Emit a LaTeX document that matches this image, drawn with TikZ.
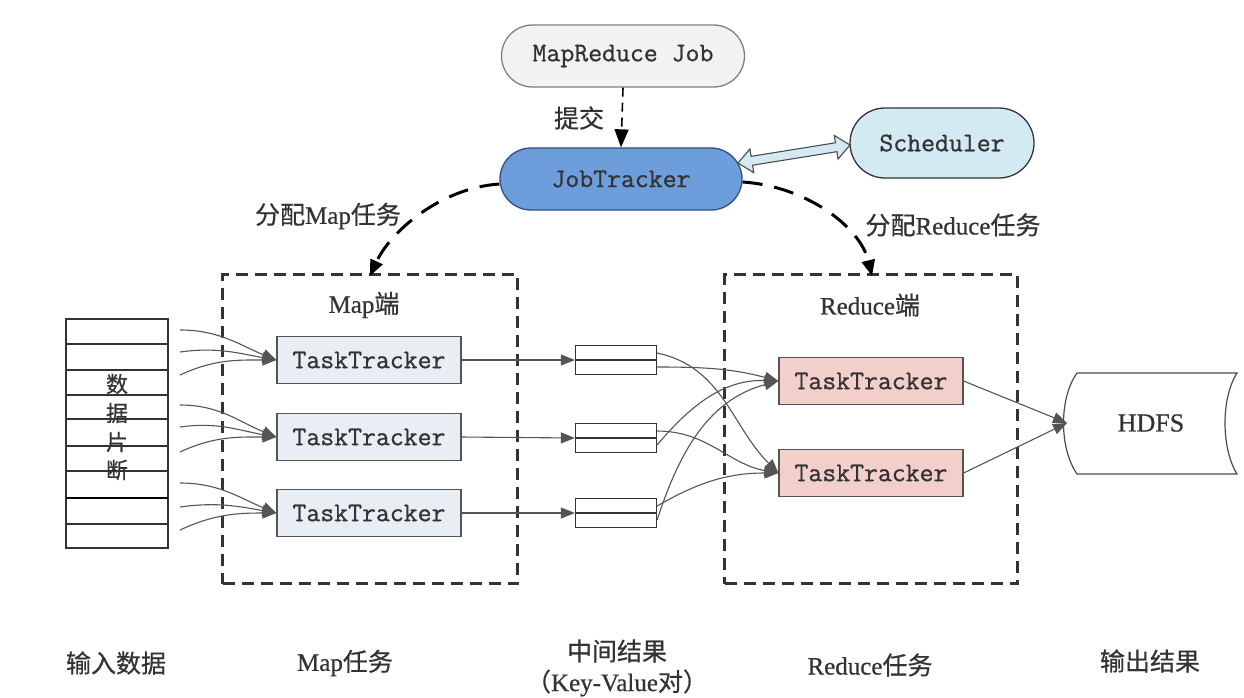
\documentclass[tikz,border=0pt]{standalone}
\usepackage{fontspec}
\newfontfamily\cjk[FakeBold=0.6]{Noto Sans CJK SC}
\newfontfamily\monof[FakeBold=0.8]{Latin Modern Mono}
\newfontfamily\serf[FakeBold=0.6]{Liberation Serif}
\usetikzlibrary{arrows.meta,shapes.misc}
\definecolor{txt}{HTML}{333333}
\definecolor{lc}{HTML}{555555}
\definecolor{jobfill}{HTML}{F2F2F2}
\definecolor{jtfill}{HTML}{6E9DDC}
\definecolor{jtdraw}{HTML}{2F4F80}
\definecolor{schfill}{HTML}{D4EAF3}
\definecolor{mapfill}{HTML}{E9EEF5}
\definecolor{redfill}{HTML}{F2CFCB}
\begin{document}
\begin{tikzpicture}[x=1pt,y=-1pt,
  pill/.style={rounded rectangle, line width=1.3pt, minimum height=62pt, inner sep=0pt,
    font=\monof\fontsize{27}{30}\selectfont, text=txt},
  ttbox/.style={rectangle, draw=lc, line width=1.2pt, minimum width=184pt, minimum height=47pt,
    inner sep=0pt, font=\monof\fontsize{27}{30}\selectfont, text=txt},
  midbox/.style={rectangle, draw=black!80, line width=1.2pt, minimum width=81pt, minimum height=29pt, inner sep=0pt},
  conn/.style={draw=lc, line width=1.1pt, -{Triangle[length=14pt,width=11pt]}},
  dbox/.style={draw=black!80, dash pattern=on 12pt off 7pt, line width=2.2pt},
  darc/.style={draw=black, line width=3pt, dash pattern=on 20pt off 12pt,
    -{Triangle[length=16pt,width=13pt]}},
  lab/.style={font=\cjk\fontsize{25}{28}\selectfont, text=txt, inner sep=0pt},
  dlab/.style={font=\cjk\fontsize{22}{24}\selectfont, text=txt, inner sep=0pt},
]
\useasboundingbox[fill=white] (0,0) rectangle (1244,697);

% top nodes
\node[pill, draw=gray, fill=jobfill, minimum width=243pt] (job) at (623,56) {MapReduce Job};
\node[pill, draw=jtdraw, fill=jtfill, minimum width=242pt] (jt) at (621,179) {JobTracker};
\node[pill, draw=black!80, fill=schfill, minimum width=184pt, minimum height=70pt] (sch) at (942,143) {Scheduler};

\draw[draw=black, line width=1.6pt, dash pattern=on 9pt off 6pt, -{Triangle[length=18pt,width=14pt]}] (job.south) -- (jt.north);
\node[lab] (tijiao) at (579,118) {提交};

% double hollow arrow
\begin{scope}[shift={(738,163)}, rotate=9.13]
\filldraw[fill=schfill, draw=black!70, line width=1.1pt]
  (0,0) -- (14,-12) -- (14,-4.5) -- (99.4,-4.5) -- (99.4,-12) -- (113.4,0)
  -- (99.4,12) -- (99.4,4.5) -- (14,4.5) -- (14,12) -- cycle;
\end{scope}

% dashed boxes
\node[dbox, minimum width=295pt, minimum height=309pt, inner sep=0pt] (mapbox) at (370,429) {};
\node[dbox, minimum width=293pt, minimum height=309pt, inner sep=0pt] (redbox) at (871,429) {};
\node[lab] (mapend) at (364,305) {{\serf Map}端};
\node[lab] (redend) at (870,305) {{\serf Reduce}端};

% assignment arcs
\coordinate (mapin) at (370,276);
\coordinate (redin) at (872,276);
\draw[darc] (jt.west) ++(0,5) .. controls (440,188) and (390,232) .. (mapin);
\draw[darc] (jt.east) ++(0,3) .. controls (805,186) and (860,226) .. (redin);
\node[lab] (fm) at (328,216) {分配{\serf Map}任务};
\node[lab] (fr) at (953,225) {分配{\serf Reduce}任务};

% input data block
\node[draw=black!80, line width=1.2pt, minimum width=102pt, minimum height=229pt, inner sep=0pt] (data) at (117,433.5) {};
\foreach \yy in {344,370,395,419,446,471,524} {\draw[black!80, line width=1.2pt] (66,\yy) -- (168,\yy);}
\draw[black, line width=2pt] (66,498) -- (168,498);
\node[dlab] (d1) at (117,384) {数};
\node[dlab] (d2) at (117,413) {据};
\node[dlab] (d3) at (117,442) {片};
\node[dlab] (d4) at (117,470) {断};

% map tasktrackers
\node[ttbox, fill=mapfill] (m1) at (369,360) {TaskTracker};
\node[ttbox, fill=mapfill] (m2) at (369,437) {TaskTracker};
\node[ttbox, fill=mapfill] (m3) at (369,513) {TaskTracker};

\coordinate (s11) at (180,330); \coordinate (s12) at (180,352); \coordinate (s13) at (180,375);
\coordinate (s21) at (180,405); \coordinate (s22) at (180,427); \coordinate (s23) at (180,452);
\coordinate (s31) at (180,483); \coordinate (s32) at (180,507); \coordinate (s33) at (180,530);
\foreach \i in {1,2,3} {
  \draw[conn] (s\i1) to[out=0,in=158] (m\i.west);
  \draw[conn] (s\i2) to[out=8,in=170] (m\i.west);
  \draw[conn] (s\i3) to[out=25,in=180] (m\i.west);
}

% intermediate blocks
\node[midbox] (b1) at (616,360) {};
\node[midbox] (b2) at (616,438) {};
\node[midbox] (b3) at (616,513) {};
\foreach \i in {1,2,3} {
  \draw[black!80, line width=1.2pt] (b\i.west) -- (b\i.east);
  \draw[conn] (m\i.east) -- (b\i.west);
}

% reduce tasktrackers
\node[ttbox, fill=redfill] (r1) at (871,381) {TaskTracker};
\node[ttbox, fill=redfill] (r2) at (871,473) {TaskTracker};

\draw[conn] ([yshift=-7pt]b1.east) to[out=0,in=165] (r1.west);
\draw[conn] ([yshift=7pt]b1.east) to[out=-12,in=135] (r2.west);
\draw[conn] ([yshift=-7pt]b2.east) to[out=50,in=178] (r1.west);
\draw[conn] ([yshift=7pt]b2.east) to[out=0,in=170] (r2.west);
\draw[conn] ([yshift=-7pt]b3.east) to[out=72,in=195] (r1.west);
\draw[conn] ([yshift=7pt]b3.east) to[out=30,in=180] (r2.west);

% HDFS
\node[font=\serf\fontsize{26}{28}\selectfont, text=txt] (hdfs) at (1151,423) {HDFS};
\draw[draw=black!70, line width=1.2pt] (1077,373) -- (1237,373)
  .. controls (1221,398) and (1221,448) .. (1237,474) -- (1077,474)
  .. controls (1059,448) and (1059,398) .. (1077,373) -- cycle;
\coordinate (hdfsin) at (1067,423);
\draw[conn] (r1.east) -- (hdfsin);
\draw[conn] (r2.east) -- (hdfsin);

% bottom labels
\node[lab] (l1) at (116,663) {输入数据};
\node[lab] (l2) at (345,663) {{\serf Map}任务};
\node[lab] (l3) at (617,651) {中间结果};
\node[lab] (l3b) at (617,683) {（{\serf Key-Value}对）};
\node[lab] (l4) at (870,665) {{\serf Reduce}任务};
\node[lab] (l5) at (1150,661) {输出结果};
\end{tikzpicture}
\end{document}
